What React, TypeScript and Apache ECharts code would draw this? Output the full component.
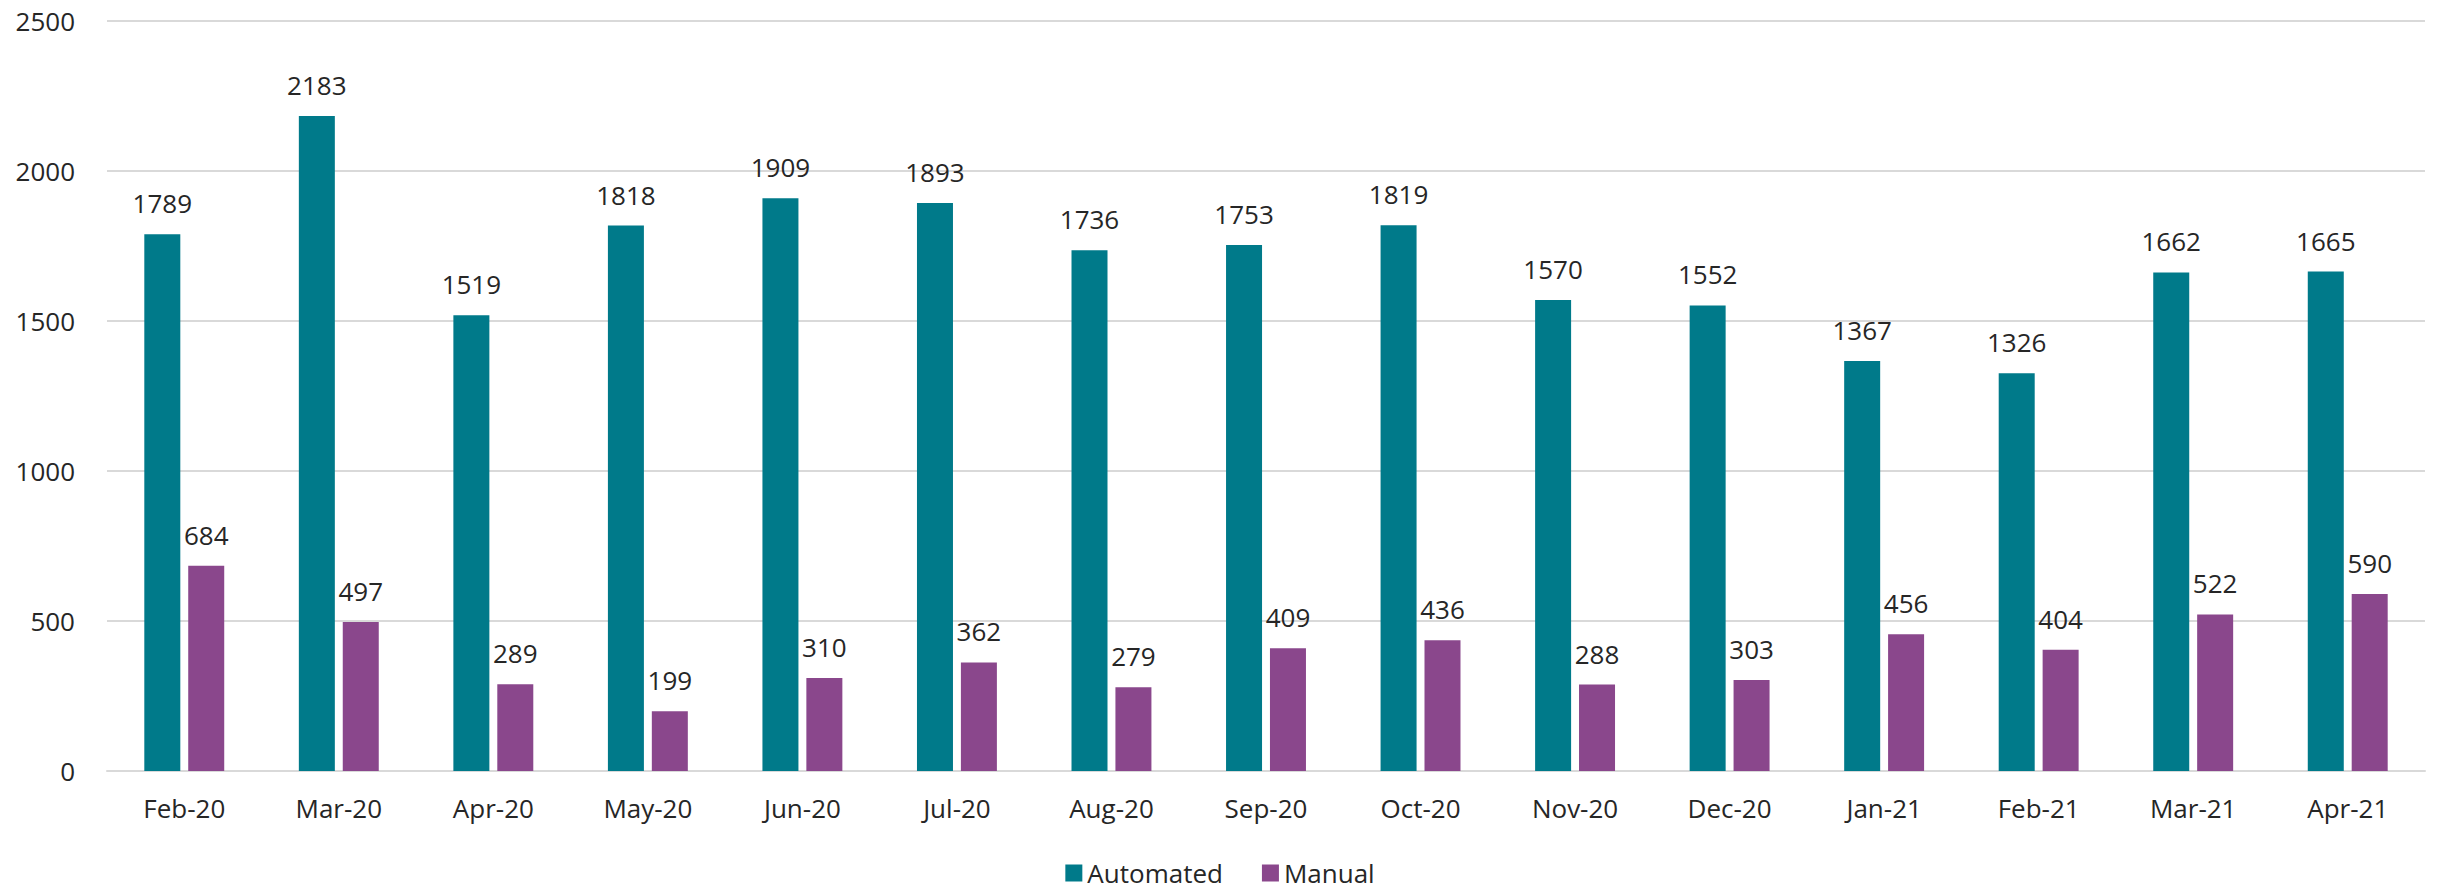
import React, { useEffect, useRef } from "react";
import * as echarts from "echarts";

const months = [
  "Feb-20", "Mar-20", "Apr-20", "May-20", "Jun-20", "Jul-20", "Aug-20", "Sep-20",
  "Oct-20", "Nov-20", "Dec-20", "Jan-21", "Feb-21", "Mar-21", "Apr-21",
];
const automated = [1789, 2183, 1519, 1818, 1909, 1893, 1736, 1753, 1819, 1570, 1552, 1367, 1326, 1662, 1665];
const manual = [684, 497, 289, 199, 310, 362, 279, 409, 436, 288, 303, 456, 404, 522, 590];

const FONT = "'Open Sans', 'Noto Sans', sans-serif";
const TEXT = "#262626";
const TEAL = "#007a8a";
const PURPLE = "#8a478c";

export default function App() {
  const ref = useRef<HTMLDivElement>(null);

  useEffect(() => {
    if (!ref.current) return;
    const chart = echarts.init(ref.current, undefined, { renderer: "svg" });
    const label = {
      show: true,
      position: "top" as const,
      distance: 18,
      color: TEXT,
      fontFamily: FONT,
      fontSize: 26,
    };
    chart.setOption({
      animation: false,
      textStyle: { fontFamily: FONT },
      grid: { left: 107, right: 15, top: 21, bottom: 119, containLabel: false },
      legend: {
        data: ["Automated", "Manual"],
        left: "center",
        top: 860,
        padding: 0,
        icon: "rect",
        itemWidth: 17,
        itemHeight: 17,
        itemGap: 39,
        textStyle: { color: TEXT, fontFamily: FONT, fontSize: 26, lineHeight: 26 },
      },
      xAxis: {
        type: "category",
        data: months,
        axisTick: { show: false },
        axisLine: { lineStyle: { color: "#d9d9d9", width: 2 } },
        axisLabel: { color: TEXT, fontFamily: FONT, fontSize: 26, margin: 24 },
      },
      yAxis: {
        type: "value",
        min: 0,
        max: 2500,
        interval: 500,
        axisLine: { show: false },
        axisTick: { show: false },
        axisLabel: {
          color: TEXT,
          fontFamily: FONT,
          fontSize: 26,
          margin: 32,
          formatter: (v: number) => String(v),
        },
        splitLine: { lineStyle: { color: "#d9d9d9", width: 2 } },
      },
      series: [
        {
          name: "Automated",
          type: "bar",
          data: automated,
          barWidth: 36,
          barGap: "22%",
          itemStyle: { color: TEAL },
          label,
        },
        {
          name: "Manual",
          type: "bar",
          data: manual,
          barWidth: 36,
          barGap: "22%",
          itemStyle: { color: PURPLE },
          label,
        },
      ],
    });
    return () => chart.dispose();
  }, []);

  return (
    <div
      ref={ref}
      style={{ position: "absolute", left: 0, top: 0, width: 2440, height: 890, background: "#fff" }}
    />
  );
}
